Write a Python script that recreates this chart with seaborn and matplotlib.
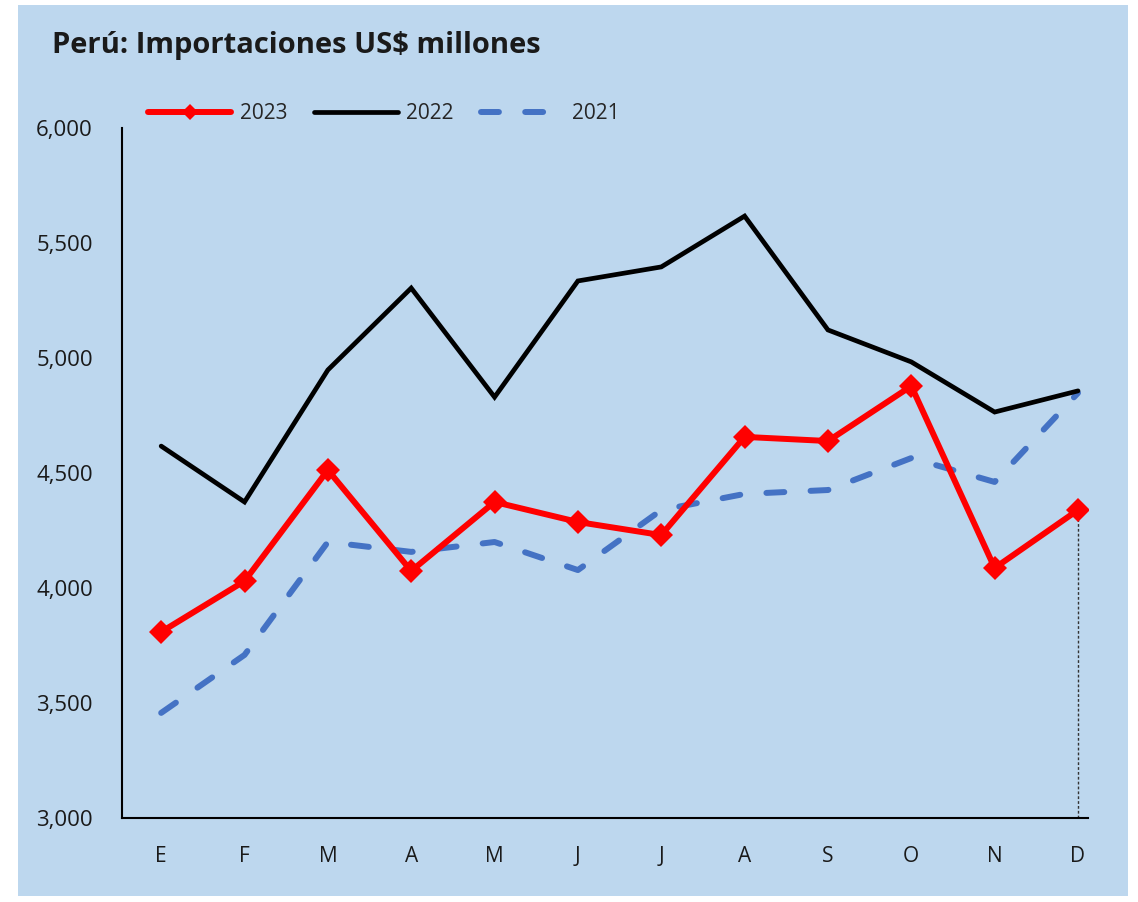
import matplotlib
matplotlib.use("Agg")
import matplotlib.pyplot as plt
import seaborn as sns
import pandas as pd

months = ["E", "F", "M", "A", "M", "J", "J", "A", "S", "O", "N", "D"]
v2023 = [3809, 4030, 4513, 4074, 4374, 4287, 4230, 4657, 4639, 4878, 4087, 4339]
v2022 = [4617, 4374, 4948, 5304, 4830, 5335, 5396, 5617, 5122, 4983, 4765, 4857]
v2021 = [3457, 3709, 4200, 4157, 4200, 4078, 4339, 4409, 4426, 4565, 4461, 4848]
yticks = [3000, 3500, 4000, 4500, 5000, 5500, 6000]

sns.set_theme(style="white")
plt.rcParams['font.family'] = ['Open Sans', 'DejaVu Sans']

bg = "#BDD7EE"
fig = plt.figure(figsize=(11.38, 9.02), dpi=100)
fig.patch.set_facecolor("white")
bg_ax = fig.add_axes([18/1138, 1 - 896/902, (1128-18)/1138, (896-5)/902], zorder=-1)
bg_ax.set_facecolor(bg)
bg_ax.set_xticks([])
bg_ax.set_yticks([])
for s in bg_ax.spines.values():
    s.set_visible(False)

ax = fig.add_axes([122/1138, 1 - 818/902, (1088-122)/1138, (818-128)/902])
ax.set_facecolor("none")

idx = list(range(len(months)))
df = pd.DataFrame({
    "x": idx * 3,
    "v": v2023 + v2022 + v2021,
    "serie": ["2023"] * 12 + ["2022"] * 12 + ["2021"] * 12,
})

sns.lineplot(data=df[df.serie == "2021"], x="x", y="v", ax=ax, color="#4472C4",
             linewidth=4.3, label="2021", zorder=2)
l21 = ax.lines[-1]
l21.set_dashes([3.0, 4.4])
l21.set_dash_capstyle("round")
sns.lineplot(data=df[df.serie == "2022"], x="x", y="v", ax=ax, color="black",
             linewidth=3.4, label="2022", zorder=3)
ax.lines[-1].set_solid_joinstyle("miter")
sns.lineplot(data=df[df.serie == "2023"], x="x", y="v", ax=ax, color="#FF0000",
             linewidth=4.3, marker="D", markersize=12, markeredgewidth=0,
             label="2023", zorder=4)

# drop line at last point
ax.vlines(idx[-1], 3000, v2023[-1], colors="#333333", linestyles=(0, (2, 1.5)), linewidth=1, zorder=1)

ax.set_xlim(-0.47, 11.12)
ax.set_ylim(3000, 6000)
ax.set_yticks(yticks)
ax.set_yticklabels([f"{t:,}" for t in yticks])
ax.set_xticks(idx)
ax.set_xticklabels(months)
ax.set_xlabel("")
ax.set_ylabel("")
for s in ["top", "right"]:
    ax.spines[s].set_visible(False)
for s in ["left", "bottom"]:
    ax.spines[s].set_color("black")
    ax.spines[s].set_linewidth(1.5)
ax.tick_params(axis="both", length=0, labelsize=15, colors="#1a1a1a")
ax.tick_params(axis="y", labelsize=16)
ax.tick_params(axis="x", pad=20)
ax.tick_params(axis="y", pad=21)

handles, labels = ax.get_legend_handles_labels()
order = [labels.index("2023"), labels.index("2022"), labels.index("2021")]
leg = ax.legend([handles[i] for i in order], [labels[i] for i in order],
                loc="lower left", bbox_to_anchor=(148/1138, 1 - 124/902), bbox_transform=fig.transFigure,
                ncol=3, frameon=False, fontsize=15, handlelength=4.0, handletextpad=0.4,
                columnspacing=1.3, borderaxespad=0, borderpad=0, markerscale=0.7)

fig.text(52/1138, 1 - 46/902, "Perú: Importaciones US$ millones", fontsize=21,
         fontweight="bold", ha="left", va="center", color="#1a1a1a")

fig.savefig("out.png", dpi=100, facecolor="white")
